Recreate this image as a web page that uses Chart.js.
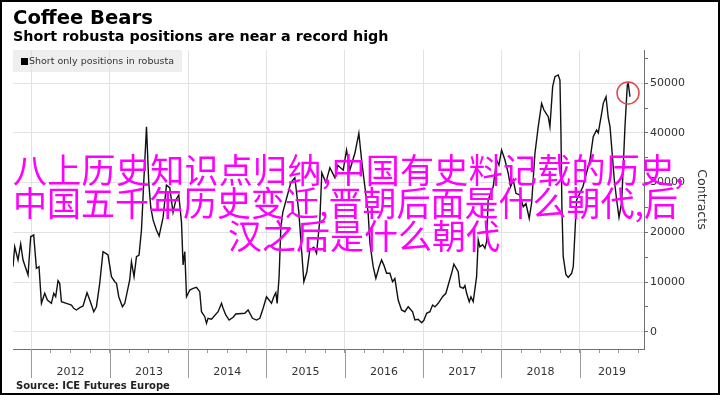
<!DOCTYPE html>
<html>
<head>
<meta charset="utf-8">
<script src="https://cdn.jsdelivr.net/npm/chart.js@4.4.1/dist/chart.umd.min.js"></script>
<style>
  html, body { margin: 0; padding: 0; background: #fff; }
  #wrap { position: relative; width: 720px; height: 395px; overflow: hidden; font-family: 'DejaVu Sans', sans-serif; }
  #chart { position: absolute; left: 0; top: 0; }
  .abs { position: absolute; white-space: nowrap; line-height: 1; }
  #title { left: 13px; top: 8px; font-size: 19.6px; font-weight: bold; color: #000; }
  #subtitle { left: 13px; top: 29px; font-size: 14.3px; font-weight: bold; color: #000; }
  #legend { left: 13px; top: 50px; width: 169px; height: 22px; background: rgba(226,226,226,0.6); }
  #legend .sw { position: absolute; left: 8px; top: 8px; width: 7px; height: 7px; background: #000; }
  #legend .lt { position: absolute; left: 16px; top: 6px; font-size: 9.5px; color: #333; white-space: nowrap; }
  #source { left: 16px; top: 381px; font-size: 10px; font-weight: bold; color: #222; }
  .zh { position: absolute; white-space: nowrap; font-family: 'Noto Sans CJK SC', sans-serif; font-size: 34px; line-height: 33px; color: #ff00ff; }
  #frame { position: absolute; left: 0; top: 0; width: 720px; height: 395px; box-sizing: border-box; border: 2px solid #000; pointer-events: none; }
</style>
</head>
<body>
<div id="wrap">
  <canvas id="chart" width="720" height="395"></canvas>
  <div class="abs" id="title">Coffee Bears</div>
  <div class="abs" id="subtitle">Short robusta positions are near a record high</div>
  <div class="abs" id="legend"><span class="sw"></span><span class="lt">Short only positions in robusta</span></div>
  <div class="abs" id="source">Source: ICE Futures Europe</div>
  <div class="zh" style="left:13px; top:152px; letter-spacing:0.3px;">八上历史知识点归纳,中国有史料记载的历史,</div>
  <div class="zh" style="left:13px; top:185px;">中国五千年历史变迁,晋朝后面是什么朝代,后</div>
  <div class="zh" style="left:228px; top:218px;">汉之后是什么朝代</div>
  <div id="frame"></div>
</div>
<script>
// weekly short positions (x in decimal years)
const dates = [
  2011.765, 2011.787, 2011.829, 2011.863, 2011.893, 2011.957, 2011.991, 2012.029, 2012.064, 2012.097,
  2012.128, 2012.170, 2012.204, 2012.255, 2012.285, 2012.310, 2012.340, 2012.361, 2012.383, 2012.447,
  2012.511, 2012.540, 2012.575, 2012.617, 2012.659, 2012.710, 2012.745, 2012.796, 2012.830, 2012.872,
  2012.914, 2012.949, 2012.978, 2013.022, 2013.064, 2013.086, 2013.115, 2013.162, 2013.192, 2013.255,
  2013.277, 2013.310, 2013.341, 2013.374, 2013.405, 2013.434, 2013.469, 2013.498, 2013.524, 2013.553,
  2013.596, 2013.630, 2013.681, 2013.724, 2013.766, 2013.808, 2013.843, 2013.881, 2013.916, 2013.936,
  2013.958, 2013.980, 2014.022, 2014.064, 2014.107, 2014.149, 2014.171, 2014.213, 2014.235, 2014.255,
  2014.299, 2014.383, 2014.427, 2014.447, 2014.481, 2014.524, 2014.575, 2014.609, 2014.724, 2014.766,
  2014.822, 2014.874, 2014.916, 2014.958, 2015.001, 2015.034, 2015.065, 2015.094, 2015.120, 2015.137,
  2015.162, 2015.184, 2015.209, 2015.260, 2015.312, 2015.363, 2015.414, 2015.478, 2015.516, 2015.554,
  2015.605, 2015.640, 2015.682, 2015.707, 2015.759, 2015.810, 2015.874, 2015.912, 2015.980, 2016.023,
  2016.065, 2016.129, 2016.180, 2016.215, 2016.257, 2016.299, 2016.321, 2016.363, 2016.397, 2016.439,
  2016.470, 2016.499, 2016.534, 2016.576, 2016.610, 2016.640, 2016.682, 2016.725, 2016.767, 2016.810,
  2016.866, 2016.895, 2016.937, 2016.981, 2017.010, 2017.045, 2017.087, 2017.121, 2017.151, 2017.193,
  2017.249, 2017.291, 2017.333, 2017.364, 2017.393, 2017.448, 2017.470, 2017.512, 2017.534, 2017.556,
  2017.589, 2017.611, 2017.640, 2017.683, 2017.704, 2017.725, 2017.760, 2017.789, 2017.811, 2017.831,
  2017.895, 2017.939, 2017.968, 2018.002, 2018.045, 2018.087, 2018.117, 2018.151, 2018.185, 2018.236,
  2018.278, 2018.313, 2018.355, 2018.386, 2018.428, 2018.470, 2018.513, 2018.543, 2018.568, 2018.598,
  2018.619, 2018.654, 2018.683, 2018.725, 2018.747, 2018.760, 2018.772, 2018.789, 2018.823, 2018.853,
  2018.896, 2018.917, 2018.938, 2018.960, 2019.040, 2019.130, 2019.172, 2019.215, 2019.236, 2019.280,
  2019.300, 2019.335, 2019.364, 2019.386, 2019.407, 2019.441, 2019.471, 2019.501, 2019.535, 2019.577,
  2019.607, 2019.619, 2019.641
];
const shortPositions = [
  13080, 17100, 14430, 17650, 14430, 11400, 19100, 19460, 12750, 13080,
  5710, 7730, 6380, 5710, 7730, 7040, 10260, 9740, 6040, 5710,
  5370, 4710, 4370, 4830, 5170, 7850, 6380, 4020, 5030, 9740,
  16100, 15770, 15430, 11070, 10060, 9740, 7040, 5030, 5710, 10400,
  14080, 11070, 15090, 15430, 20460, 30000, 41250, 30000, 25000, 22500,
  20460, 19250, 23000, 29500, 29000, 24000, 26500, 27500, 22000, 13420,
  16100, 7040, 8390, 8730, 8930, 8050, 4020, 3020, 1690, 2700,
  2500, 4020, 5710, 4710, 3360, 2350, 2900, 3560, 3700, 4370,
  2700, 2350, 2700, 4710, 7040, 6380, 5710, 7040, 7850, 5710,
  11070, 21000, 24000, 27000, 30000, 31000, 24000, 10060, 12000, 16440,
  17000, 15770, 22470, 32000, 30000, 33000, 31000, 33500, 32500, 36560,
  32530, 35900, 39920, 34550, 29170, 23820, 17790, 13080, 10740, 13080,
  14430, 13400, 11750, 11750, 10060, 10700, 6380, 4370, 4020, 5030,
  4020, 2350, 2500, 1810, 2300, 3700, 4020, 5370, 5000, 5710,
  7040, 7730, 10060, 11750, 13600, 12070, 9050, 8730, 9300, 7730,
  6040, 7000, 6040, 11070, 18450, 17100, 17500, 16780, 18110, 26500,
  29170, 34550, 33500, 36560, 34550, 31870, 29170, 30520, 27850, 27500,
  25150, 25800, 22810, 26000, 35900, 41250, 45950, 44600, 44000, 43260,
  41250, 49300, 51310, 51650, 50640, 40000, 25000, 15090, 11500, 10940,
  11750, 13080, 19800, 26500, 29170, 34550, 39230, 40580, 40000, 44000,
  45950, 47280, 43000, 41250, 37220, 30520, 26500, 23000, 26000, 41250,
  49630, 49970, 47280
];
const yearTicks = [2012, 2013, 2014, 2015, 2016, 2017, 2018, 2019];
const valueTicks = [0, 10000, 20000, 30000, 40000, 50000];
const xMin = 2011.765, xMax = 2019.82;
const yMin = -3480, yMax = 56680;
const circleAt = { x: 2019.616, y: 48030 };

const majorTickLines = {
  id: 'majorTickLines',
  afterDraw(chart) {
    const xs = chart.scales.x, ctx = chart.ctx;
    ctx.save();
    ctx.strokeStyle = '#9a9a9a';
    ctx.lineWidth = 1;
    yearTicks.forEach(yr => {
      const px = Math.round(xs.getPixelForValue(yr)) + 0.5;
      ctx.beginPath();
      ctx.moveTo(px, xs.top);
      ctx.lineTo(px, xs.top + 29);
      ctx.stroke();
    });
    ctx.restore();
  }
};

const highlight = {
  id: 'highlight',
  afterDatasetsDraw(chart) {
    const ctx = chart.ctx;
    const cx = chart.scales.x.getPixelForValue(circleAt.x);
    const cy = chart.scales.y.getPixelForValue(circleAt.y);
    ctx.save();
    ctx.strokeStyle = '#dc4a4a';
    ctx.lineWidth = 1.5;
    ctx.beginPath();
    ctx.arc(cx, cy, 11, 0, Math.PI * 2);
    ctx.stroke();
    ctx.restore();
  }
};

new Chart(document.getElementById('chart'), {
  type: 'line',
  data: {
    datasets: [{
      label: 'Short only positions in robusta',
      data: dates.map((d, i) => ({ x: d, y: shortPositions[i] })),
      borderColor: '#111',
      borderWidth: 1.4,
      pointRadius: 0,
      tension: 0,
      fill: false
    }]
  },
  options: {
    responsive: false,
    animation: false,
    layout: { padding: { left: 13, top: 50, right: 0, bottom: 0 } },
    plugins: { legend: { display: false }, tooltip: { enabled: false } },
    scales: {
      x: {
        type: 'linear',
        min: xMin,
        max: xMax,
        afterBuildTicks: scale => {
          const t = [];
          yearTicks.forEach(yr => {
            [0, 0.25, 0.5, 0.75].forEach(q => {
              const v = yr + q;
              if (v > xMin && v < xMax) t.push({ value: v });
            });
            // year label sits in the middle of the visible part of that year
            const mid = (Math.max(yr, xMin) + Math.min(yr + 1, xMax)) / 2;
            t.push({ value: mid, yr: yr });
          });
          t.sort((a, b) => a.value - b.value);
          scale.ticks = t;
        },
        afterFit: scale => { scale.height = 46; },
        grid: {
          color: c => (c.tick && !c.tick.yr && Number.isInteger(c.tick.value)) ? '#e2e2e2' : 'rgba(0,0,0,0)',
          tickColor: c => (c.tick && c.tick.yr) ? 'rgba(0,0,0,0)' : '#9a9a9a',
          tickLength: 4
        },
        border: { color: '#707070', width: 1 },
        ticks: {
          autoSkip: false,
          maxRotation: 0,
          padding: 13,
          color: '#333',
          font: { family: 'DejaVu Sans', size: 11 },
          callback: (v, i, ticks) => ticks[i].yr ? String(ticks[i].yr) : ''
        }
      },
      y: {
        position: 'right',
        min: yMin,
        max: yMax,
        afterBuildTicks: scale => {
          const t = [];
          for (let v = 0; v <= 55000; v += 5000) t.push({ value: v });
          scale.ticks = t;
        },
        afterFit: scale => { scale.width = 76; },
        grid: {
          color: c => (c.tick && valueTicks.includes(c.tick.value)) ? '#e2e2e2' : 'rgba(0,0,0,0)',
          tickColor: '#707070',
          tickLength: 4
        },
        border: { color: '#707070', width: 1 },
        ticks: {
          padding: 2,
          color: '#333',
          font: { family: 'DejaVu Sans', size: 11 },
          callback: v => valueTicks.includes(v) ? String(v) : ''
        },
        title: {
          display: true,
          text: 'Contracts',
          color: '#333',
          font: { family: 'DejaVu Sans', size: 12.5 },
          padding: { top: 11, bottom: 0 }
        }
      }
    }
  },
  plugins: [majorTickLines, highlight]
});
</script>
</body>
</html>
